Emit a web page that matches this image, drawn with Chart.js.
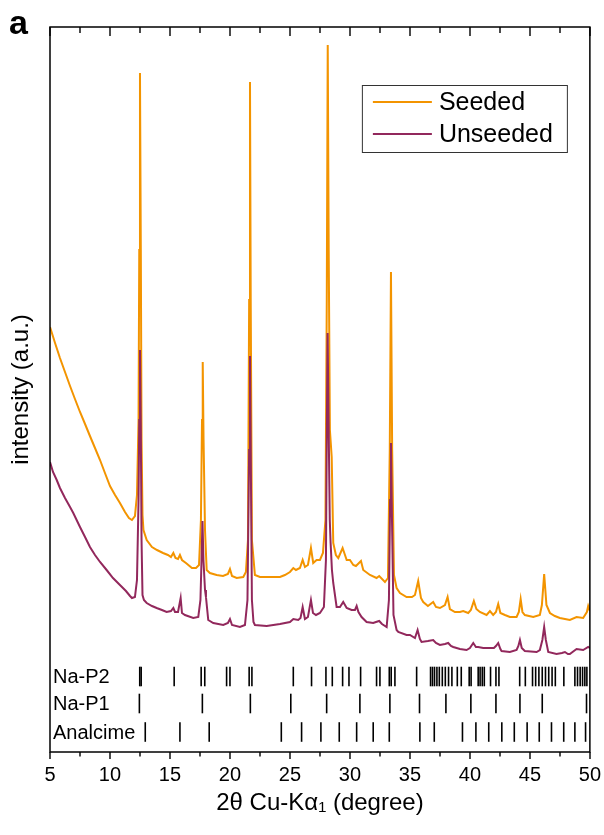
<!DOCTYPE html>
<html><head><meta charset="utf-8">
<script src="https://cdn.jsdelivr.net/npm/chart.js@4.4.1/dist/chart.umd.min.js"></script>
<style>html,body{margin:0;padding:0;background:#fff}#wrap{width:604px;height:835px;position:relative}</style>
</head><body><div id="wrap"><canvas id="c"></canvas></div>
<script>
// ---- data (2θ in degrees, intensity in a.u.) ----
const seededAngle = [5.00,5.42,5.83,6.25,6.67,7.08,7.50,7.92,8.33,8.75,9.17,9.58,10.00,10.42,10.83,11.25,11.58,11.83,12.08,12.25,12.38,12.44,12.50,12.57,12.63,12.71,12.79,13.06,13.50,13.92,14.42,14.83,15.08,15.28,15.46,15.67,15.83,16.00,16.33,16.83,17.17,17.42,17.58,17.67,17.73,17.80,17.92,18.06,18.33,18.89,19.42,19.83,20.00,20.17,20.56,21.11,21.33,21.50,21.60,21.67,21.73,21.83,22.08,22.50,23.06,23.61,24.17,24.58,25.00,25.28,25.50,25.83,26.06,26.25,26.50,26.75,26.94,27.22,27.50,27.75,27.96,28.07,28.15,28.23,28.33,28.48,28.61,28.83,29.03,29.39,29.73,30.00,30.28,30.50,30.67,30.92,31.11,31.67,32.22,32.44,32.92,33.17,33.32,33.42,33.52,33.67,33.89,34.17,34.72,35.17,35.42,35.69,35.92,36.11,36.50,36.94,37.17,37.50,37.92,38.14,38.33,38.75,39.17,39.44,39.86,40.08,40.33,40.54,40.83,41.39,41.67,41.94,42.17,42.36,42.54,42.92,43.33,43.89,44.08,44.23,44.38,44.58,45.28,45.83,46.00,46.19,46.38,46.67,47.08,47.50,47.92,48.33,48.89,49.44,49.75,49.86,50.00];
const seededIntensity = [425,409,394,380,366,353,340,328,316,304,292,279,266,257,249,240,234,232,236,257,332,502,679,502,312,237,222,212,205,202,199,197,195,199,194,193,197,192,189,184,184,187,232,332,390,312,222,182,179,177,176,178,183,176,174,175,180,212,452,670,452,212,177,175,175,175,175,177,180,184,182,184,192,185,187,204,189,192,192,199,232,452,707,502,322,295,209,197,194,204,192,192,187,186,188,191,182,177,174,176,170,174,302,480,302,177,164,159,155,155,157,171,154,150,146,150,145,144,147,155,143,140,140,141,139,142,151,143,140,137,141,137,140,148,139,137,135,135,140,153,140,137,135,137,147,178,147,139,136,134,133,132,135,134,140,146,141];

const unseededAngle = [5.00,5.25,5.56,5.83,6.25,6.67,6.94,7.50,7.92,8.33,8.75,9.17,9.72,10.25,10.83,11.33,11.67,11.83,12.08,12.25,12.38,12.44,12.50,12.57,12.63,12.71,12.83,13.06,13.50,13.89,14.33,14.72,15.08,15.28,15.42,15.67,15.89,16.00,16.25,16.94,17.36,17.54,17.63,17.71,17.79,17.92,18.00,18.19,18.61,19.44,19.83,20.00,20.17,20.83,21.25,21.46,21.60,21.67,21.73,21.83,21.96,22.08,23.06,24.17,25.00,25.28,25.69,25.88,26.06,26.25,26.50,26.75,26.92,27.17,27.50,27.83,28.00,28.08,28.14,28.22,28.32,28.39,28.50,28.61,28.89,29.17,29.44,29.73,30.14,30.42,30.56,30.71,30.97,31.39,31.94,32.17,32.44,32.67,33.06,33.25,33.35,33.42,33.48,33.63,33.89,34.03,34.72,35.00,35.42,35.64,35.83,35.97,36.50,36.94,37.17,37.50,37.92,38.19,38.42,38.61,39.17,39.72,40.00,40.28,40.50,40.69,41.11,41.39,41.72,42.00,42.17,42.36,42.54,42.64,43.33,43.89,44.04,44.17,44.32,44.58,45.56,45.83,46.04,46.19,46.33,46.53,47.22,47.67,47.92,48.17,48.33,48.89,49.44,49.86,50.00];
const unseededIntensity = [290,280,272,264,254,245,239,225,215,205,197,190,182,174,167,161,156,154,155,172,252,332,402,322,212,157,152,149,146,144,142,140,141,144,140,140,154,139,137,134,135,152,192,231,192,162,155,132,129,127,129,133,127,125,127,152,302,396,302,152,130,127,126,128,130,133,132,134,145,133,135,152,139,137,139,145,192,332,419,332,232,209,182,169,145,145,150,144,142,142,146,140,135,130,129,130,131,128,125,152,252,309,252,137,122,120,117,117,114,122,113,110,111,112,109,107,108,109,106,105,103,102,104,109,105,105,104,104,104,104,106,109,103,101,100,102,106,112,104,101,100,102,112,125,112,100,98,99,100,98,98,103,102,105,104];

// reference patterns (2θ positions of the stick lines)
const naP2Lines = [12.48,12.60,15.35,17.60,17.90,19.72,20.00,21.60,21.83,25.28,26.80,28.00,28.53,29.39,29.92,30.89,32.22,32.50,33.28,33.44,33.75,35.56,36.72,36.88,37.05,37.25,37.45,37.70,37.95,38.22,38.50,38.95,39.28,39.94,40.10,40.69,40.85,41.03,41.20,41.72,42.17,42.42,44.15,44.62,45.22,45.48,45.75,46.03,46.30,46.57,46.85,47.12,47.83,48.75,48.97,49.19,49.39,49.58,49.75];
const naP1Lines = [12.45,17.70,21.70,25.07,28.06,30.83,33.33,35.80,38.00,40.08,42.17,44.17,46.03,49.72];
const analcimeLines = [12.94,15.83,18.27,24.28,25.97,27.58,29.11,30.56,31.94,33.28,35.83,37.03,39.38,40.50,41.57,42.66,43.70,44.77,45.78,46.80,47.82,48.75,49.64];

const seriesNames = ['Seeded', 'Unseeded'];
const patternNames = ['Na-P2', 'Na-P1', 'Analcime'];

// ---- layout / style ----
const FONT = '"Liberation Sans", Arial, Helvetica, sans-serif';
const ORANGE = 'rgb(243,148,0)';
const MAROON = 'rgb(146,40,92)';
const rowLevel = [75.5, 48.5, 20]; // vertical placement of the stick rows (a.u.)

const toPts = (xs, ys) => xs.map((x, i) => ({x: x, y: ys[i]}));
const stick = (xs, lvl) => xs.map(x => ({x: x, y: lvl}));

const stickDs = (label, xs, lvl) => ({
  type: 'scatter', label: label, data: stick(xs, lvl), showLine: false,
  pointStyle: 'line', rotation: 90, pointRadius: 9.8, pointHoverRadius: 9.8,
  pointBorderColor: '#000', pointBackgroundColor: '#000', pointBorderWidth: 1.6,
  order: 0, isPattern: true
});

const decor = {
  id: 'decor',
  afterDraw(chart) {
    const ctx = chart.ctx, ca = chart.chartArea, xs = chart.scales.x, ys = chart.scales.y;
    ctx.save();
    // frame
    ctx.strokeStyle = '#000'; ctx.lineWidth = 1.5;
    ctx.strokeRect(ca.left, ca.top, ca.right - ca.left, ca.bottom - ca.top);
    // ticks
    ctx.lineWidth = 1.4;
    for (let v = xs.min; v <= xs.max + 1e-6; v += 2.5) {
      const p = Math.round(xs.getPixelForValue(v));
      const major = Math.abs(v % 5) < 1e-6;
      ctx.beginPath();
      ctx.moveTo(p, ca.bottom); ctx.lineTo(p, ca.bottom + (major ? 7 : 4.5));
      ctx.moveTo(p, ca.top); ctx.lineTo(p, ca.top + (major ? 9 : 6));
      ctx.stroke();
    }
    // pattern labels
    ctx.fillStyle = '#000';
    ctx.font = '20px ' + FONT;
    ctx.textAlign = 'left'; ctx.textBaseline = 'middle';
    patternNames.forEach((n, i) => {
      ctx.fillText(n, ca.left + 3, ys.getPixelForValue(rowLevel[i]) + 1);
    });
    // panel letter
    ctx.font = 'bold 34px ' + FONT;
    ctx.textBaseline = 'alphabetic';
    ctx.fillText('a', 9, 34);
    // legend
    const bx = ca.right - 228, by = ca.top + 58, bw = 205, bh = 67;
    ctx.lineWidth = 1; ctx.strokeStyle = '#333';
    ctx.strokeRect(bx + 0.5, by + 0.5, bw, bh);
    const lines = chart.data.datasets.filter(d => !d.isPattern);
    ctx.font = '25px ' + FONT;
    ctx.textBaseline = 'middle';
    lines.forEach((d, i) => {
      const yy = by + 17 + i * 32;
      ctx.strokeStyle = d.borderColor; ctx.lineWidth = 2;
      ctx.beginPath(); ctx.moveTo(bx + 11, yy); ctx.lineTo(bx + 70, yy); ctx.stroke();
      ctx.fillStyle = '#000';
      ctx.fillText(d.label, bx + 77, yy + 1);
    });
    ctx.restore();
  }
};

new Chart(document.getElementById('c'), {
  type: 'line',
  data: {
    datasets: [
      {label: seriesNames[0], data: toPts(seededAngle, seededIntensity), borderColor: ORANGE, borderWidth: 2, pointRadius: 0, tension: 0, fill: false, order: 2},
      {label: seriesNames[1], data: toPts(unseededAngle, unseededIntensity), borderColor: MAROON, borderWidth: 2, pointRadius: 0, tension: 0, fill: false, order: 1},
      stickDs(patternNames[0], naP2Lines, rowLevel[0]),
      stickDs(patternNames[1], naP1Lines, rowLevel[1]),
      stickDs(patternNames[2], analcimeLines, rowLevel[2])
    ]
  },
  options: {
    responsive: true, maintainAspectRatio: false, animation: false, devicePixelRatio: 1,
    layout: {padding: {left: 0, right: 14, top: 27, bottom: 0}},
    plugins: {legend: {display: false}, tooltip: {enabled: false}, title: {display: false}},
    scales: {
      x: {
        type: 'linear', min: 5, max: 50,
        grid: {display: false}, border: {display: false},
        ticks: {stepSize: 5, color: '#000', padding: 3, font: {family: FONT, size: 20}},
        title: {display: true, text: '2θ Cu-Kα₁ (degree)', color: '#000', font: {family: FONT, size: 24}, padding: {top: 0, bottom: 17}},
        afterFit: s => { s.height = 83; }
      },
      y: {
        type: 'linear', min: 0, max: 725,
        grid: {display: false}, border: {display: false},
        ticks: {display: false},
        title: {display: true, text: 'intensity (a.u.)', color: '#000', font: {family: FONT, size: 24}, padding: {top: 7, bottom: 0}},
        afterFit: s => { s.width = 50; }
      }
    }
  },
  plugins: [decor]
});
</script></body></html>
